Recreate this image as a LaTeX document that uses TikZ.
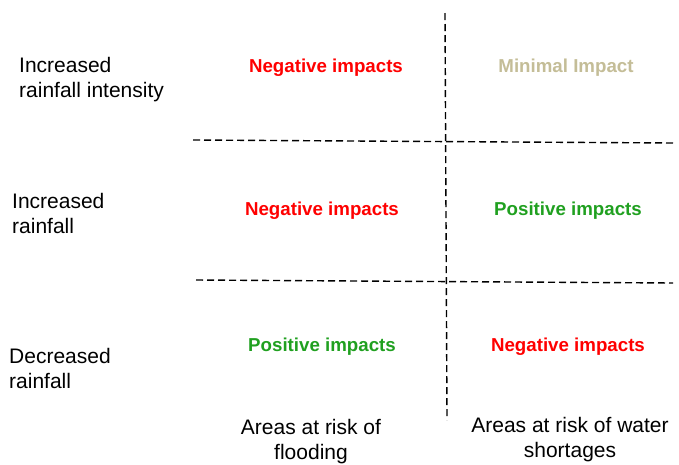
\documentclass[tikz,border=0pt]{standalone}
\usepackage{fontspec}
\setmainfont{Liberation Sans}
\usetikzlibrary{positioning}

\definecolor{negred}{RGB}{255,0,0}
\definecolor{posgreen}{RGB}{32,160,32}
\definecolor{mintan}{RGB}{196,189,151}

\begin{document}
\begin{tikzpicture}[
x=1pt, y=-1pt,
rowlabel/.style={anchor=west, align=left, inner sep=0pt,
                 font=\fontsize{21}{25}\selectfont},
collabel/.style={align=center, inner sep=0pt,
                 font=\fontsize{21}{25}\selectfont},
impact/.style={inner sep=0pt, font=\fontsize{18.7}{22}\selectfont\bfseries},
divider/.style={line width=1.4pt, dash pattern=on 7pt off 4pt}
]

\useasboundingbox (0,0) rectangle (679,464);

% row labels
\node[rowlabel] (intensity) at (19,79.5) {Increased\\rainfall intensity};
\node[rowlabel] (wetter) at (12,213.5) {Increased\\rainfall};
\node[rowlabel] (drier) at (9,368.5) {Decreased\\rainfall};

% impacts, flooding column
\node[impact, negred] (flood-1) at (326,68) {Negative impacts};
\node[impact, negred] (flood-2) at (322,211) {Negative impacts};
\node[impact, posgreen] (flood-3) at (322,347) {Positive impacts};

% impacts, water shortage column
\node[impact, mintan] (short-1) at (566,68) {Minimal Impact};
\node[impact, posgreen] (short-2) at (568,211) {Positive impacts};
\node[impact, negred] (short-3) at (568,347) {Negative impacts};

% column labels
\node[collabel] (flooding) at (311,441.5) {Areas at risk of\\flooding};
\node[collabel] (shortage) at (570,439.5) {Areas at risk of water\\shortages};

% dashed grid
\coordinate (vtop) at (445,13);
\coordinate (vbot) at (447,420);
\coordinate (h1l) at (193,140);
\coordinate (h1r) at (673,143);
\coordinate (h2l) at (196,280);
\coordinate (h2r) at (673,283);
\draw[divider] (vtop) -- (vbot);
\draw[divider] (h1l) -- (h1r);
\draw[divider] (h2l) -- (h2r);

\end{tikzpicture}
\end{document}
